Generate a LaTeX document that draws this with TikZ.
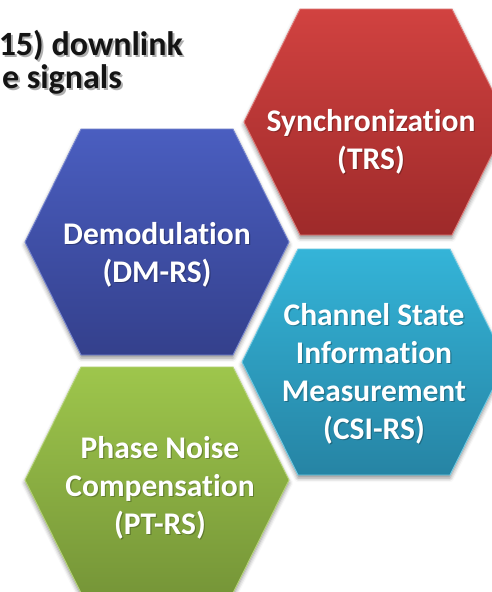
\documentclass[tikz,border=0pt]{standalone}
\usepackage{fontspec}
\setmainfont{Carlito}[Ligatures={NoCommon,NoRequired}]
\usetikzlibrary{shadows.blur}

% fill colours (top / bottom of each gradient)
\definecolor{redtop}{RGB}{209,66,64}
\definecolor{redbot}{RGB}{158,42,42}
\definecolor{bluetop}{RGB}{74,94,192}
\definecolor{bluebot}{RGB}{52,64,140}
\definecolor{cyantop}{RGB}{52,180,216}
\definecolor{cyanbot}{RGB}{38,132,164}
\definecolor{greentop}{RGB}{158,198,76}
\definecolor{greenbot}{RGB}{118,150,56}
\definecolor{titleink}{RGB}{20,20,20}
\definecolor{titleshade}{RGB}{175,175,175}

% heading text with a soft offset shade behind it
\newcommand\shadedhead[1]{%
  \makebox[0pt][l]{\hspace{2pt}\raisebox{-2pt}{\color{titleshade}#1}}#1}

\tikzset{
  hexbase/.style={line width=0.9pt,
    blur shadow={shadow xshift=0pt, shadow yshift=-3pt,
                 shadow blur radius=4pt, shadow opacity=45}},
  hexlabel/.style={text=white, align=center, inner sep=0pt,
    font=\fontsize{31.5}{38}\selectfont\bfseries},
  hexlabelshadow/.style={hexlabel, text=black, opacity=0.25},
  titletext/.style={text=titleink, inner sep=0pt,
    font=\fontsize{34}{34}\selectfont\bfseries},
}

\begin{document}
\begin{tikzpicture}[x=1pt, y=-1pt]
  \useasboundingbox (0,0) rectangle (492,592);
  \clip (0,0) rectangle (492,592);

  % centres of the four hexagons
  \coordinate (cR) at (376,122);
  \coordinate (cB) at (157,242);
  \coordinate (cC) at (374,362);
  \coordinate (cG) at (157,480);

  % hexagons: top edge 152 wide, side run 56, height 226
  \path[hexbase, top color=redtop, bottom color=redbot, draw=redtop!70!white]
    (cR) ++(-76,-113) -- ++(152,0) -- ++(56,113) -- ++(-56,113)
    -- ++(-152,0) -- ++(-56,-113) -- cycle;
  \path[hexbase, top color=bluetop, bottom color=bluebot, draw=bluetop!75!white]
    (cB) ++(-76,-113) -- ++(152,0) -- ++(56,113) -- ++(-56,113)
    -- ++(-152,0) -- ++(-56,-113) -- cycle;
  \path[hexbase, top color=cyantop, bottom color=cyanbot, draw=cyantop!70!white]
    (cC) ++(-76,-113) -- ++(152,0) -- ++(56,113) -- ++(-56,113)
    -- ++(-152,0) -- ++(-56,-113) -- cycle;
  \path[hexbase, top color=greentop, bottom color=greenbot, draw=greentop!75!white]
    (cG) ++(-76,-113) -- ++(152,0) -- ++(56,113) -- ++(-56,113)
    -- ++(-152,0) -- ++(-56,-113) -- cycle;

  % labels (soft shadow first, then white text)
  \node[hexlabelshadow] at (372.2,143.2) {Synchronization\\(TRS)};
  \node[hexlabel] (trs) at (371,142) {Synchronization\\(TRS)};

  \node[hexlabelshadow] at (158.2,256.2) {Demodulation\\(DM-RS)};
  \node[hexlabel] (dmrs) at (157,255) {Demodulation\\(DM-RS)};

  \node[hexlabelshadow] at (375.2,375.2) {Channel State\\Information\\Measurement\\(CSI-RS)};
  \node[hexlabel] (csirs) at (374,374) {Channel State\\Information\\Measurement\\(CSI-RS)};

  \node[hexlabelshadow] at (161.2,489.2) {Phase Noise\\Compensation\\(PT-RS)};
  \node[hexlabel] (ptrs) at (160,488) {Phase Noise\\Compensation\\(PT-RS)};

  % heading, cut at the left edge
  \node[titletext, anchor=base east] (head1) at (183,55) {\shadedhead{15) downlink}};
  \node[titletext, anchor=base east] (head2) at (122,88) {\shadedhead{e signals}};
\end{tikzpicture}
\end{document}
